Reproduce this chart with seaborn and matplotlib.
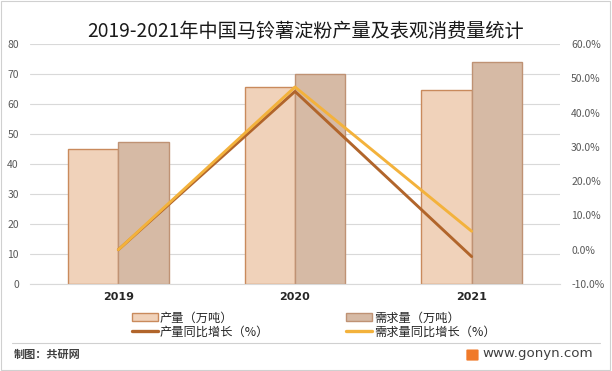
import matplotlib.pyplot as plt
import matplotlib.patches as mpatches
from matplotlib.lines import Line2D
import seaborn as sns
import pandas as pd

sns.set_style('white')
plt.rcParams['font.family'] = ['Noto Sans CJK SC', 'DejaVu Sans']

years = ['2019', '2020', '2021']
production = [44.9, 65.6, 64.6]
demand = [47.2, 69.9, 73.9]
production_growth = [0.0, 46.2, -2.0]
demand_growth = [0.0, 47.5, 5.4]

bar_fill = ['#F0D2BA', '#D6BAA5']
bar_edge = ['#C98A5C', '#BF9274']
line_colors = ['#B1652B', '#F3B23C']

df = pd.DataFrame({
    'year': years * 2,
    'value': production + demand,
    'kind': ['产量（万吨）'] * 3 + ['需求量（万吨）'] * 3,
})

fig = plt.figure(figsize=(6.12, 3.71), dpi=100)
ax = fig.add_axes([0.049, 0.2345, 0.866, 0.6465])

sns.barplot(data=df, x='year', y='value', hue='kind', palette=bar_fill,
            width=0.57, ax=ax, legend=False, saturation=1)
for cont, ec in zip(ax.containers, bar_edge):
    for p in cont:
        p.set_edgecolor(ec)
        p.set_linewidth(1.0)

ax.set_ylim(0, 80)
ax.set_yticks(range(0, 81, 10))
ax.set_xlim(-0.5, 2.5)
ax.grid(axis='y', color='#D9D9D9', linewidth=0.8)
ax.set_axisbelow(True)
for s in ['left', 'right', 'top']:
    ax.spines[s].set_visible(False)
ax.spines['bottom'].set_color('#D9D9D9')
ax.set_xlabel('')
ax.set_ylabel('')
ax.tick_params(axis='y', length=0, labelsize=7.5, labelcolor='#595959', pad=8)
ax.tick_params(axis='x', length=0, labelsize=8, pad=6)
for t in ax.get_xticklabels():
    t.set_fontweight('bold')
    t.set_family(['DejaVu Sans'])

ax2 = ax.twinx()
sns.lineplot(x=[0, 1, 2], y=production_growth, ax=ax2, color=line_colors[0], linewidth=2.1)
sns.lineplot(x=[0, 1, 2], y=demand_growth, ax=ax2, color=line_colors[1], linewidth=2.1)
ax2.set_ylim(-10, 60)
ax2.set_yticks(range(-10, 61, 10))
ax2.set_yticklabels([f'{v:.1f}%' for v in range(-10, 61, 10)])
ax2.tick_params(axis='y', length=0, labelsize=7.5, labelcolor='#595959', pad=8)
for s in ax2.spines.values():
    s.set_visible(False)

fig.text(0.499, 0.916, '2019-2021年中国马铃薯淀粉产量及表观消费量统计',
         ha='center', va='center', fontsize=13.8, color='#1a1a1a')

handles = [
    mpatches.Patch(facecolor=bar_fill[0], edgecolor=bar_edge[0], label='产量（万吨）'),
    Line2D([], [], color=line_colors[0], linewidth=2.4, label='产量同比增长（%）'),
    mpatches.Patch(facecolor=bar_fill[1], edgecolor=bar_edge[1], label='需求量（万吨）'),
    Line2D([], [], color=line_colors[1], linewidth=2.4, label='需求量同比增长（%）'),
]
fig.legend(handles=handles, ncol=2, loc='center left', bbox_to_anchor=(0.2157, 0.124),
           frameon=False, fontsize=8.8, handlelength=2.13, handleheight=0.66,
           columnspacing=6.3, labelspacing=0.1, handletextpad=0.16, borderpad=0,
           borderaxespad=0)

fig.add_artist(Line2D([0.02, 0.98], [0.076, 0.076], color='#D0D0D0', linewidth=0.8,
                      transform=fig.transFigure))
fig.text(0.022, 0.046, '制图：共研网', ha='left', va='center', fontsize=8,
         color='#404040', fontweight='bold')
fig.text(0.969, 0.046, 'www.gonyn.com', ha='right', va='center', fontsize=9.6,
         color='#404040', family=['DejaVu Sans'])
fig.add_artist(mpatches.FancyBboxPatch((0.764, 0.03), 0.016, 0.026, boxstyle='round,pad=0.002',
                                       facecolor='#F07A2A', edgecolor='none',
                                       transform=fig.transFigure))
fig.add_artist(mpatches.Rectangle((0.002, 0.003), 0.995, 0.993, fill=False,
                                  edgecolor='#D0D0D0', linewidth=0.8,
                                  transform=fig.transFigure))

fig.savefig('out.png', dpi=100)
